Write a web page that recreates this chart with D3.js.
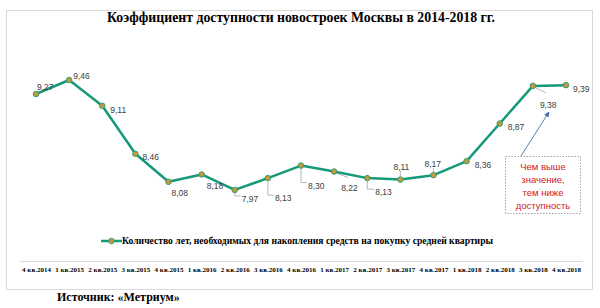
<!DOCTYPE html>
<html>
<head>
<meta charset="utf-8">
<script src="https://cdn.jsdelivr.net/npm/d3@7"></script>
<style>
  body { margin: 0; background: #fff; }
</style>
</head>
<body>
<div id="chart"></div>
<script>
const quarters = ["4 кв.2014", "1 кв.2015", "2 кв.2015", "3 кв.2015", "4 кв.2015",
                  "1 кв.2016", "2 кв.2016", "3 кв.2016", "4 кв.2016", "1 кв.2017",
                  "2 кв.2017", "3 кв.2017", "4 кв.2017", "1 кв.2018", "2 кв.2018",
                  "3 кв.2018", "4 кв.2018"];
const years = [9.27, 9.46, 9.11, 8.46, 8.08, 8.18, 7.97, 8.13, 8.30, 8.22,
               8.13, 8.11, 8.17, 8.36, 8.87, 9.38, 9.39];
const seriesName = "Количество лет, необходимых для накопления средств на покупку средней квартиры";
const titleText = "Коэффициент доступности новостроек Москвы в 2014-2018 гг.";
const sourceText = "Источник: «Метриум»";
const noteLines = ["Чем выше", "значение,", "тем ниже", "доступность"];

// label placement relative to each point: [dx, dy, leader]
const labelPos = [
  [1, -7, 0], [4, -4, 0], [8, 4, 0], [7, 3, 0], [3, 11, 0], [5, 12, 0],
  [7, 9, 1], [7, 20, 1], [7, 20, 1], [7, 17, 1], [8, 14, 1], [-7, -13, 1],
  [-9, -11, 1], [8, 4, 0], [8, 3, 0], [7, 19, 1], [7, 4, 0]
];

const W = 600, H = 308;
const svg = d3.select("#chart").append("svg")
    .attr("width", W)
    .attr("height", H);

// frame
svg.append("rect")
    .attr("x", 6.5).attr("y", 10.5)
    .attr("width", 586).attr("height", 279)
    .attr("fill", "#fff")
    .attr("stroke", "#d9d9d9");

svg.append("text")
    .attr("x", 301).attr("y", 22)
    .attr("text-anchor", "middle")
    .style("font-family", "'Liberation Serif', 'Times New Roman', serif")
    .style("font-weight", "bold")
    .style("font-size", "13.8px")
    .attr("fill", "#000")
    .text(titleText);

const xScale = d3.scalePoint()
    .domain(quarters)
    .range([36, 566]);
const yScale = d3.scaleLinear()
    .domain([7.5, 9.5])
    .range([224.6, 77.05]);

// category axis, line only
const xAxis = d3.axisBottom(xScale).tickSize(0).tickPadding(6);
const gx = svg.append("g")
    .attr("transform", "translate(0,261)")
    .call(xAxis);
gx.select(".domain").attr("d", "M20,0.5H583").attr("stroke", "#d9d9d9");
gx.selectAll("text")
    .style("font-family", "'Liberation Serif', 'Times New Roman', serif")
    .style("font-weight", "bold")
    .style("font-size", "7px")
    .attr("fill", "#000");

const data = quarters.map((q, i) => ({q: q, v: years[i], pos: labelPos[i]}));

const line = d3.line()
    .x(d => xScale(d.q))
    .y(d => yScale(d.v));

const lineColor = "#15997a";
const dotFill = "#c29a3c";

// leader lines
svg.selectAll(".leader")
    .data(data.filter(d => d.pos[2]))
    .enter().append("path")
    .attr("fill", "none")
    .attr("stroke", "#a6a6a6")
    .attr("stroke-width", 0.8)
    .attr("d", function(d) {
        const x = xScale(d.q), y = yScale(d.v);
        const dx = d.pos[0], dy = d.pos[1];
        if (d.q === "3 кв.2018") return `M${x + 3},${y + 2}L${x + 13},${y + 7}`;
        if (d.q === "1 кв.2017") return `M${x + 3},${y + 2}L${x + 14},${y + 6}`;
        if (dy < 0) return `M${x},${y - 3}V${y + dy + 4}`;
        return `M${x},${y + 3}V${y + dy - 3}H${x + dx - 1}`;
    });

svg.append("path")
    .datum(data)
    .attr("fill", "none")
    .attr("stroke", lineColor)
    .attr("stroke-width", 2.5)
    .attr("stroke-linejoin", "round")
    .attr("d", line);

svg.selectAll(".dot")
    .data(data)
    .enter().append("circle")
    .attr("cx", d => xScale(d.q))
    .attr("cy", d => yScale(d.v))
    .attr("r", 2.8)
    .attr("fill", dotFill)
    .attr("stroke", lineColor)
    .attr("stroke-width", 0.8);

svg.selectAll(".lbl")
    .data(data)
    .enter().append("text")
    .attr("x", d => xScale(d.q) + d.pos[0])
    .attr("y", d => yScale(d.v) + d.pos[1])
    .attr("dy", "0.35em")
    .style("font-family", "'Liberation Sans', Arial, sans-serif")
    .style("font-size", "8.5px")
    .attr("fill", "#404040")
    .text(d => d.v.toFixed(2).replace(".", ","));

// legend
const lg = svg.append("g").attr("transform", "translate(101,241)");
lg.append("line")
    .attr("x1", 0).attr("x2", 21)
    .attr("stroke", lineColor).attr("stroke-width", 2.5);
lg.append("circle")
    .attr("cx", 10.5).attr("r", 2.8)
    .attr("fill", dotFill).attr("stroke", lineColor).attr("stroke-width", 0.8);
lg.append("text")
    .attr("x", 21).attr("dy", "0.35em")
    .style("font-family", "'Liberation Serif', 'Times New Roman', serif")
    .style("font-weight", "bold")
    .style("font-size", "9.65px")
    .text(seriesName);

// annotation
svg.append("rect")
    .attr("x", 505.5).attr("y", 156.5)
    .attr("width", 75).attr("height", 57)
    .attr("fill", "#fff")
    .attr("stroke", "#8c8c8c")
    .attr("stroke-width", 0.8)
    .attr("stroke-dasharray", "1.5,1.5");
svg.selectAll(".note")
    .data(noteLines)
    .enter().append("text")
    .attr("x", 543)
    .attr("y", (d, i) => 166.5 + i * 13)
    .attr("dy", "0.35em")
    .attr("text-anchor", "middle")
    .style("font-family", "'Liberation Sans', Arial, sans-serif")
    .style("font-size", "9.5px")
    .attr("fill", "#d0201f")
    .text(d => d);

svg.append("defs").append("marker")
    .attr("id", "arr")
    .attr("viewBox", "0 0 10 10")
    .attr("refX", 9).attr("refY", 5)
    .attr("markerWidth", 6).attr("markerHeight", 6)
    .attr("orient", "auto")
    .append("path")
    .attr("d", "M0,0L10,5L0,10z")
    .attr("fill", "#4a6fb0");
svg.append("line")
    .attr("x1", 521).attr("y1", 156)
    .attr("x2", 549).attr("y2", 112)
    .attr("stroke", "#4a6fb0")
    .attr("stroke-width", 0.9)
    .attr("marker-end", "url(#arr)");

svg.append("text")
    .attr("x", 57).attr("y", 301)
    .style("font-family", "'Liberation Serif', 'Times New Roman', serif")
    .style("font-weight", "bold")
    .style("font-size", "12px")
    .text(sourceText);
</script>
</body>
</html>
